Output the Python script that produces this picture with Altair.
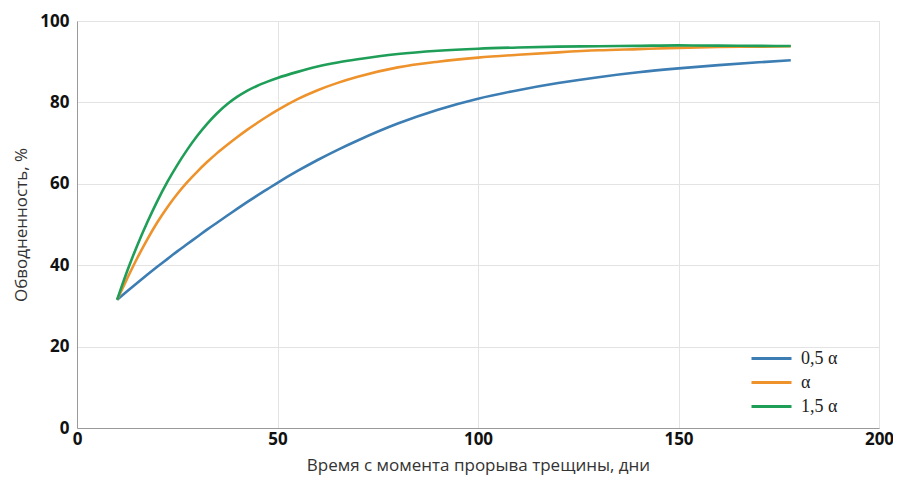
import altair as alt
import pandas as pd

days = [10, 12.5, 15, 17.5, 20, 22.5, 25, 27.5, 30, 32.5, 35, 37.5, 40, 42.5, 45, 47.5, 50,
        55, 60, 65, 70, 80, 90, 100, 110, 120, 130, 140, 150, 160, 170, 178]

half_alpha = [31.5, 33.6, 35.65, 37.65, 39.6, 41.5, 43.4, 45.2, 47.0, 48.8, 50.5, 52.2, 53.9,
              55.55, 57.15, 58.7, 60.25, 63.15, 65.85, 68.35, 70.65, 74.8, 78.2, 80.9, 83.0,
              84.75, 86.2, 87.4, 88.35, 89.15, 89.85, 90.35]
alpha = [31.5, 36.7, 41.7, 46.3, 50.5, 54.2, 57.5, 60.4, 63.0, 65.4, 67.6, 69.6, 71.5, 73.3,
         75.0, 76.6, 78.1, 80.8, 83.0, 84.8, 86.3, 88.6, 90.0, 91.0, 91.7, 92.3, 92.8, 93.1,
         93.4, 93.6, 93.7, 93.8]
one_half_alpha = [31.5, 38.5, 44.8, 50.5, 55.7, 60.4, 64.6, 68.4, 71.8, 74.8, 77.4, 79.6,
                  81.4, 82.9, 84.1, 85.1, 86.0, 87.5, 88.8, 89.8, 90.6, 91.9, 92.7, 93.2,
                  93.5, 93.7, 93.8, 93.9, 94.0, 93.95, 93.9, 93.85]

series_names = ["0,5 α", "α", "1,5 α"]
series_colors = ["#3c7db3", "#ee922c", "#1f9e58"]

rows = []
for name, vals in zip(series_names, [half_alpha, alpha, one_half_alpha]):
    for d, v in zip(days, vals):
        rows.append({"day": d, "value": v, "series": name})
df = pd.DataFrame(rows)

chart = alt.Chart(df).mark_line(strokeWidth=2.6, interpolate="monotone").encode(
    x=alt.X("day:Q",
            scale=alt.Scale(domain=[0, 200], nice=False),
            axis=alt.Axis(values=[0, 50, 100, 150, 200], title="Время с момента прорыва трещины, дни",
                          labelFont="Open Sans", labelFontWeight="bold", labelFontSize=17,
                          labelColor="#111", labelPadding=3, ticks=False, labelFlush=False,
                          titleFont="Open Sans", titleFontWeight="normal", titleFontSize=17,
                          titleColor="#333", titlePadding=10,
                          domainColor="#9a9a9a", gridColor="#e3e3e3")),
    y=alt.Y("value:Q",
            scale=alt.Scale(domain=[0, 100], nice=False),
            axis=alt.Axis(values=[0, 20, 40, 60, 80, 100], title="Обводненность, %",
                          labelFont="Open Sans", labelFontWeight="bold", labelFontSize=17,
                          labelColor="#111", labelPadding=8, ticks=False, labelFlush=False,
                          titleFont="Open Sans", titleFontWeight="normal", titleFontSize=17,
                          titleColor="#333", titlePadding=9,
                          domainColor="#9a9a9a", gridColor="#e3e3e3")),
    color=alt.Color("series:N",
                    scale=alt.Scale(domain=series_names, range=series_colors),
                    sort=series_names,
                    legend=alt.Legend(title=None, orient="none", legendX=673, legendY=326,
                                      symbolType="M-2,0H2", symbolSize=400, symbolStrokeWidth=3,
                                      symbolOffset=10,
                                      labelFont="Liberation Serif", labelFontSize=18,
                                      labelColor="#222", rowPadding=3, labelOffset=18,
                                      padding=0)),
).properties(
    width=802,
    height=407,
    autosize=alt.AutoSizeParams(type="none"),
    padding={"left": 69, "top": 13, "right": 14, "bottom": 50},
).configure_view(
    stroke="#9a9a9a", strokeWidth=1
).configure(background="white")

chart.save("out.html", embed_options={"renderer": "svg", "actions": False})
